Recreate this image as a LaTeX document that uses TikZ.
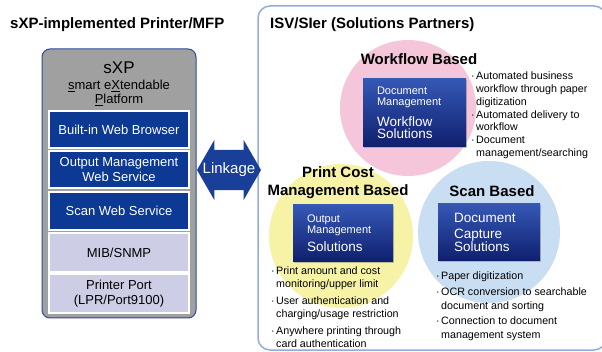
\documentclass[tikz,border=0pt]{standalone}
\usepackage{fontspec}
\setmainfont{Liberation Sans}
\usetikzlibrary{shapes.arrows,shadows}

\definecolor{sxpgray}{HTML}{A0A0A0}
\definecolor{sxpedge}{HTML}{2A4A9A}
\definecolor{sxpblue}{HTML}{0B3994}
\definecolor{sxplilac}{HTML}{CDCDE6}
\definecolor{linkblue}{HTML}{1A3F99}
\definecolor{isvedge}{HTML}{94ACD9}
\definecolor{wfpink}{HTML}{F5C6D9}
\definecolor{pcyellow}{HTML}{F6F3A6}
\definecolor{scanblue}{HTML}{C9DEF2}
\definecolor{boxtop}{HTML}{3558B5}
\definecolor{boxbottom}{HTML}{0F1F6E}

\newcommand{\bul}{\makebox[5pt][l]{·}}
\newcommand{\ind}{\hspace*{5pt}}

\begin{document}
\begin{tikzpicture}[x=1pt,y=-1pt,
    every node/.style={inner sep=0pt},
    heading/.style={anchor=west, font=\bfseries\fontsize{15}{17}\selectfont},
    sxplayer/.style={draw=white, line width=1.2pt, fill=sxpblue, text=white,
      minimum width=140, align=center, font=\fontsize{13}{15}\selectfont},
    lowlayer/.style={sxplayer, fill=sxplilac, text=black},
    zone/.style={circle, minimum size=#1},
    zonetitle/.style={align=center, font=\bfseries\fontsize{15}{18}\selectfont},
    solution/.style={top color=boxtop, bottom color=boxbottom, text=white,
      drop shadow={shadow xshift=1pt, shadow yshift=-1pt, opacity=.45},
      align=left, inner xsep=14pt},
    bullets/.style={anchor=north west, align=left, font=\fontsize{10.7}{12.7}\selectfont}]
  \useasboundingbox (0,0) rectangle (602,352);

  % left side: the printer platform
  \node[heading] (sxptitle) at (10,25) {sXP-implemented Printer/MFP};
  \node[draw=sxpedge, line width=1pt, fill=sxpgray, rounded corners=8pt,
    minimum width=154, minimum height=269] (sxp) at (119,183.5) {};
  \node[font=\fontsize{17}{19}\selectfont] (sxpname) at (119,68) {sXP};
  \node[font=\fontsize{13}{15}\selectfont] (sxplong) at (119,86) {\underline{s}mart e\underline{X}tendable};
  \node[font=\fontsize{13}{15}\selectfont] (sxplong2) at (119,100) {\underline{P}latform};

  \node[sxplayer, minimum height=37] (browser) at (119,129.5) {Built-in Web Browser};
  \node[sxplayer, minimum height=37] (outws) at (119,169.5) {Output Management\\Web Service};
  \node[sxplayer, minimum height=38] (scanws) at (119,211) {Scan Web Service};
  \node[lowlayer, minimum height=39] (mib) at (119,252.5) {MIB/SNMP};
  \node[lowlayer, minimum height=39] (port) at (119,293.5) {Printer Port\\(LPR/Port9100)};

  % right side: the partners
  \node[draw=isvedge, line width=1.5pt, fill=white, rounded corners=12pt,
    minimum width=348, minimum height=344] (isv) at (432,178) {};
  \node[heading] (isvtitle) at (270,25) {ISV/SIer (Solutions Partners)};

  \node[double arrow, fill=linkblue, minimum height=64, inner xsep=0pt, inner ysep=20pt,
    double arrow head extend=10pt, double arrow tip angle=120] (link) at (229,170) {};
  \node[text=white, font=\fontsize{15}{17}\selectfont] (linktext) at (link.center) {Linkage};

  \node[zone=136, fill=wfpink] (wfzone) at (408,108) {};
  \node[zone=144, fill=pcyellow] (pczone) at (341,236) {};
  \node[zone=142, fill=scanblue] (scanzone) at (489,232) {};

  \node[zonetitle] (wftitle) at (419,59) {Workflow Based};
  \node[zonetitle] (pctitle) at (338,183) {Print Cost\\Management Based};
  \node[zonetitle] (scantitle) at (492,191) {Scan Based};

  \node[solution, text width=75, minimum height=68] (wfbox) at (414.5,113)
    {\fontsize{11}{11}\selectfont Document\\Management\par\vspace{5pt}%
     \fontsize{13.5}{16}\selectfont Workflow\\Solutions};
  \node[solution, text width=72, minimum height=57] (pcbox) at (343,233.5)
    {\fontsize{11}{11}\selectfont Output\\Management\par\vspace{5pt}%
     \fontsize{13.5}{16}\selectfont Solutions};
  \node[solution, text width=70, inner xsep=16pt, minimum height=57] (scanbox) at (489,232.5)
    {\fontsize{13.5}{15.5}\selectfont Document\\Capture\\Solutions};

  \node[bullets] (wflist) at (471,72) {\bul Automated business\\ \ind workflow through paper\\
    \ind digitization\\ \bul Automated delivery to\\ \ind workflow\\ \bul Document\\
    \ind management/searching};
  \node[bullets] (pclist) at (271,267) {\bul Print amount and cost\\ \ind monitoring/upper limit\\[4.5pt]
    \bul User authentication and\\ \ind charging/usage restriction\\[4.5pt]
    \bul Anywhere printing through\\ \ind card authentication};
  \node[bullets, font=\fontsize{10.7}{14}\selectfont] (scanlist) at (436,272) {\bul Paper digitization\\[1.5pt]
    \bul OCR conversion to searchable\\ \ind document and sorting\\[1.5pt]
    \bul Connection to document\\ \ind management system};
\end{tikzpicture}
\end{document}
